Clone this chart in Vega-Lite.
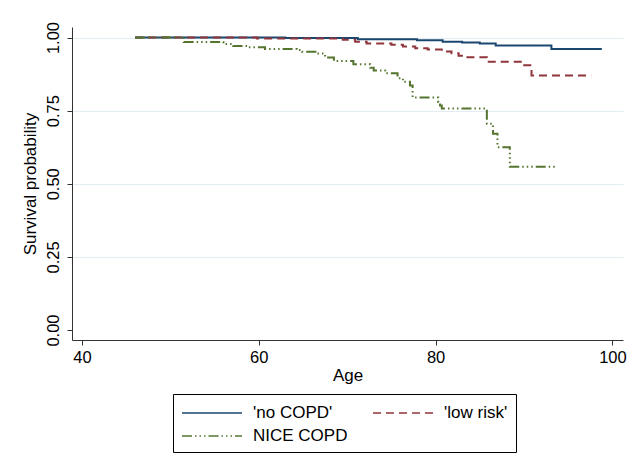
{
  "$schema": "https://vega.github.io/schema/vega-lite/v6.json",
  "width": 551,
  "height": 313,
  "autosize": {"type": "none"},
  "padding": {"left": 72, "top": 27, "right": 11, "bottom": 126},
  "background": "white",
  "config": {
    "view": {"stroke": null},
    "font": "Liberation Sans",
    "axis": {
      "domainColor": "#333333",
      "tickColor": "#333333",
      "tickSize": 5,
      "labelColor": "black",
      "labelFontSize": 16.5,
      "titleColor": "black",
      "titleFontSize": 17,
      "titleFontWeight": "normal",
      "gridColor": "#e3ecf0",
      "gridWidth": 1
    },
    "legend": {
      "title": null,
      "orient": "none",
      "direction": "horizontal",
      "legendX": 101,
      "legendY": 367,
      "columns": 2,
      "symbolType": "M-3,0H3",
      "symbolSize": 400,
      "symbolOffset": 20,
      "symbolStrokeWidth": 1.5,
      "symbolFillColor": "transparent",
      "labelFontSize": 17,
      "labelColor": "black",
      "labelOffset": 30,
      "strokeColor": "black",
      "padding": 8,
      "columnPadding": 22,
      "rowPadding": 4
    }
  },
  "data": {
    "values": [
      {"age": 46.0, "surv": 1.0, "group": "'no COPD'"},
      {"age": 63.0, "surv": 0.998, "group": "'no COPD'"},
      {"age": 71.2, "surv": 0.994, "group": "'no COPD'"},
      {"age": 77.9, "surv": 0.991, "group": "'no COPD'"},
      {"age": 80.8, "surv": 0.986, "group": "'no COPD'"},
      {"age": 83.0, "surv": 0.983, "group": "'no COPD'"},
      {"age": 85.0, "surv": 0.98, "group": "'no COPD'"},
      {"age": 86.8, "surv": 0.973, "group": "'no COPD'"},
      {"age": 93.1, "surv": 0.961, "group": "'no COPD'"},
      {"age": 98.8, "surv": 0.961, "group": "'no COPD'"},
      {"age": 46.0, "surv": 1.0, "group": "'low risk'"},
      {"age": 59.8, "surv": 0.997, "group": "'low risk'"},
      {"age": 69.5, "surv": 0.992, "group": "'low risk'"},
      {"age": 70.9, "surv": 0.986, "group": "'low risk'"},
      {"age": 72.2, "surv": 0.98, "group": "'low risk'"},
      {"age": 75.0, "surv": 0.975, "group": "'low risk'"},
      {"age": 76.3, "surv": 0.969, "group": "'low risk'"},
      {"age": 77.7, "surv": 0.963, "group": "'low risk'"},
      {"age": 79.1, "surv": 0.959, "group": "'low risk'"},
      {"age": 80.7, "surv": 0.952, "group": "'low risk'"},
      {"age": 81.8, "surv": 0.946, "group": "'low risk'"},
      {"age": 82.6, "surv": 0.938, "group": "'low risk'"},
      {"age": 83.1, "surv": 0.933, "group": "'low risk'"},
      {"age": 85.8, "surv": 0.917, "group": "'low risk'"},
      {"age": 89.9, "surv": 0.905, "group": "'low risk'"},
      {"age": 90.85, "surv": 0.87, "group": "'low risk'"},
      {"age": 97.6, "surv": 0.87, "group": "'low risk'"},
      {"age": 46.0, "surv": 1.0, "group": "NICE COPD"},
      {"age": 51.5, "surv": 0.985, "group": "NICE COPD"},
      {"age": 56.0, "surv": 0.978, "group": "NICE COPD"},
      {"age": 57.1, "surv": 0.971, "group": "NICE COPD"},
      {"age": 58.8, "surv": 0.967, "group": "NICE COPD"},
      {"age": 60.7, "surv": 0.961, "group": "NICE COPD"},
      {"age": 64.3, "surv": 0.957, "group": "NICE COPD"},
      {"age": 64.9, "surv": 0.951, "group": "NICE COPD"},
      {"age": 66.4, "surv": 0.945, "group": "NICE COPD"},
      {"age": 67.5, "surv": 0.932, "group": "NICE COPD"},
      {"age": 68.5, "surv": 0.92, "group": "NICE COPD"},
      {"age": 70.7, "surv": 0.909, "group": "NICE COPD"},
      {"age": 72.6, "surv": 0.897, "group": "NICE COPD"},
      {"age": 73.0, "surv": 0.887, "group": "NICE COPD"},
      {"age": 74.3, "surv": 0.878, "group": "NICE COPD"},
      {"age": 75.7, "surv": 0.861, "group": "NICE COPD"},
      {"age": 76.3, "surv": 0.849, "group": "NICE COPD"},
      {"age": 77.1, "surv": 0.836, "group": "NICE COPD"},
      {"age": 77.4, "surv": 0.795, "group": "NICE COPD"},
      {"age": 80.3, "surv": 0.78, "group": "NICE COPD"},
      {"age": 80.5, "surv": 0.768, "group": "NICE COPD"},
      {"age": 80.7, "surv": 0.757, "group": "NICE COPD"},
      {"age": 85.8, "surv": 0.705, "group": "NICE COPD"},
      {"age": 86.5, "surv": 0.671, "group": "NICE COPD"},
      {"age": 87.0, "surv": 0.625, "group": "NICE COPD"},
      {"age": 88.4, "surv": 0.558, "group": "NICE COPD"},
      {"age": 93.7, "surv": 0.558, "group": "NICE COPD"}
    ]
  },
  "mark": {"type": "line", "interpolate": "step-after", "strokeWidth": 2},
  "encoding": {
    "x": {
      "field": "age",
      "type": "quantitative",
      "title": "Age",
      "scale": {"domain": [38.87, 101.2], "nice": false, "zero": false},
      "axis": {"values": [40, 60, 80, 100], "grid": false, "labelPadding": 4, "titlePadding": 2}
    },
    "y": {
      "field": "surv",
      "type": "quantitative",
      "title": "Survival probability",
      "scale": {"domain": [-0.034, 1.036], "nice": false, "zero": false},
      "axis": {
        "values": [0, 0.25, 0.5, 0.75, 1],
        "format": ".2f",
        "labelAngle": -90,
        "labelAlign": "center",
        "labelBaseline": "bottom",
        "labelPadding": 6,
        "titlePadding": 6,
        "gridOpacity": {"condition": {"test": "datum.value === 0", "value": 0}, "value": 1}
      }
    },
    "stroke": {
      "field": "group",
      "type": "nominal",
      "sort": null,
      "scale": {"domain": ["'no COPD'", "'low risk'", "NICE COPD"], "range": ["#1a476f", "#90353b", "#55752f"]}
    },
    "strokeDash": {
      "field": "group",
      "type": "nominal",
      "sort": null,
      "scale": {"domain": ["'no COPD'", "'low risk'", "NICE COPD"], "range": [[1, 0], [8, 5], [10, 3, 1.5, 3, 1.5, 3, 1.5, 3]]}
    }
  }
}
